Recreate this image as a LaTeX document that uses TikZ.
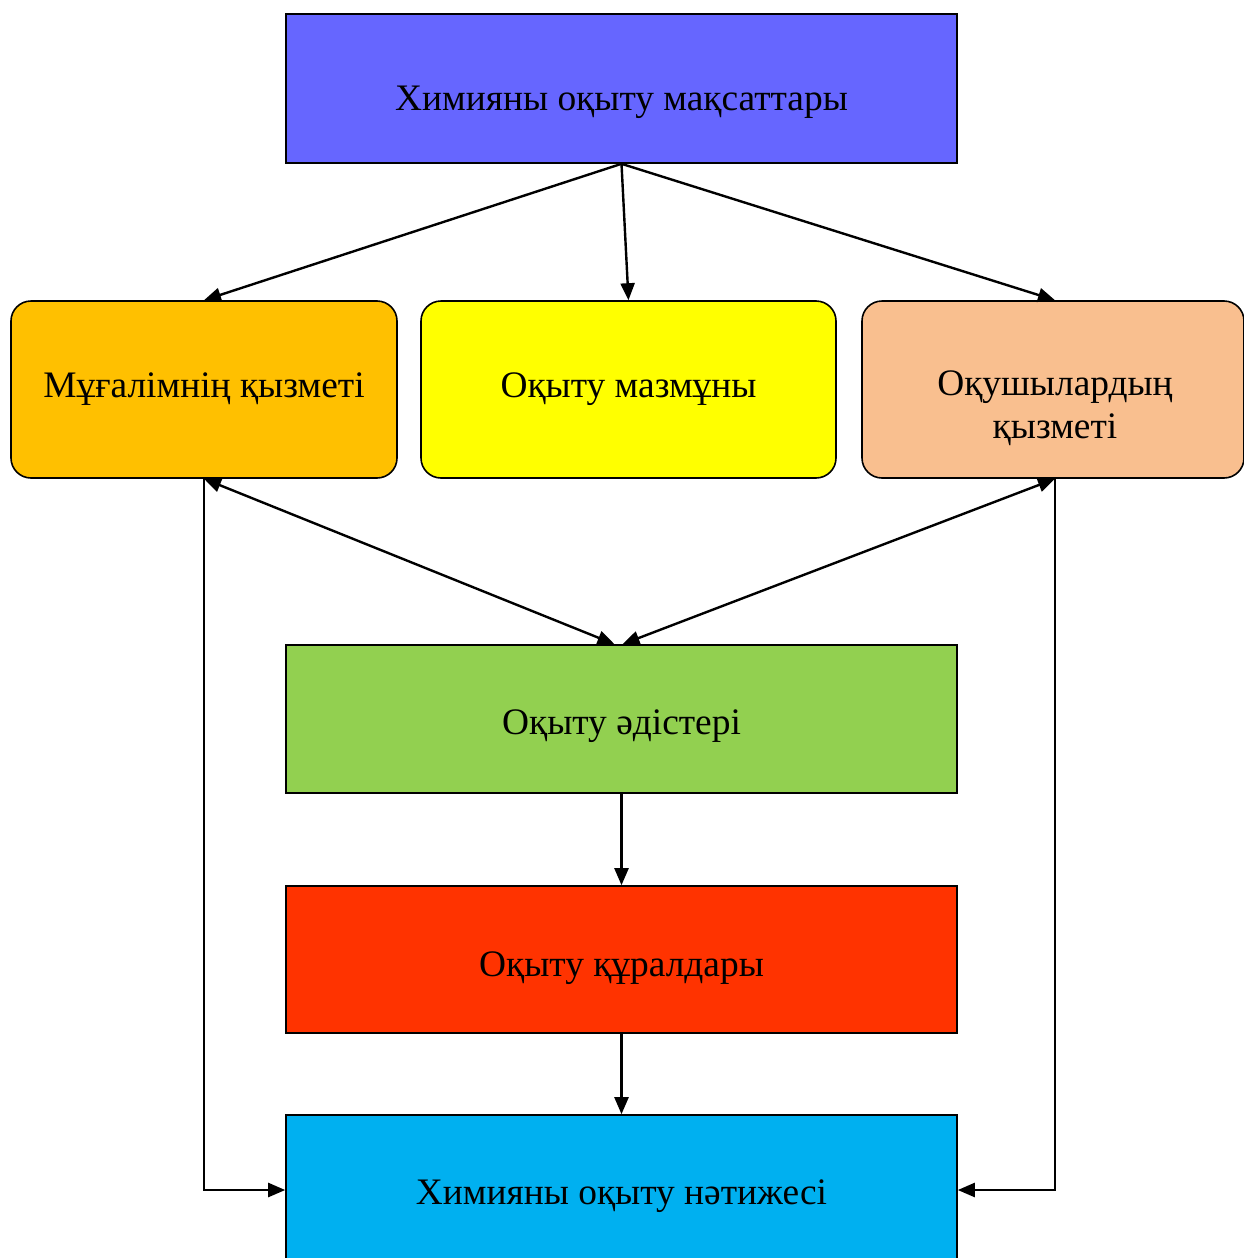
\documentclass[tikz,border=0pt]{standalone}
\usepackage{fontspec}
\setmainfont{Liberation Serif}
\usetikzlibrary{arrows.meta,calc}
\definecolor{cgoal}{HTML}{6666FF}
\definecolor{cteach}{HTML}{FFC000}
\definecolor{ccontent}{HTML}{FFFF00}
\definecolor{cpupil}{HTML}{F9BF8F}
\definecolor{cmethod}{HTML}{92D050}
\definecolor{cmeans}{HTML}{FF3300}
\definecolor{cresult}{HTML}{00B0F0}
\tikzset{
  lbl/.style={font=\fontsize{37.4}{43}\selectfont, inner sep=0pt},
  box/.style={lbl, draw=black, line width=1.6pt, rectangle, align=center},
  rbox/.style={box, rounded corners=20pt},
  link/.style={line width=2.4pt, -{Triangle[length=17pt,width=14pt]}},
  dlink/.style={line width=2.4pt, {Triangle[length=17pt,width=14pt]}-{Triangle[length=17pt,width=14pt]}}
}
\begin{document}
\begin{tikzpicture}[x=1pt,y=-1pt]
\useasboundingbox[fill=white] (0,0) rectangle (1243,1258);
% boxes; text height with zero depth places each baseline below the centre
\node[box, fill=cgoal, minimum width=671pt, minimum height=149pt, text height=43pt, text depth=0pt] (goal) at (621.5,88.5) {Химияны оқыту мақсаттары};
\node[rbox, fill=cteach, minimum width=386pt, minimum height=177pt] (teach) at (204,389.5) {Мұғалімнің қызметі};
\node[rbox, fill=ccontent, minimum width=415pt, minimum height=177pt] (content) at (628.5,389.5) {Оқыту мазмұны};
\node[rbox, fill=cpupil, minimum width=382pt, minimum height=177pt] (pupil) at (1053,389.5) {};
\node[lbl, anchor=base] (pupilA) at (1055,395) {Оқушылардың};
\node[lbl, anchor=base] (pupilB) at (1055,438) {қызметі};
\node[box, fill=cmethod, minimum width=671pt, minimum height=148pt, text height=31pt, text depth=0pt] (method) at (621.5,719) {Оқыту әдістері};
\node[box, fill=cmeans, minimum width=671pt, minimum height=147pt, text height=34pt, text depth=0pt] (means) at (621.5,959.5) {Оқыту құралдары};
\node[box, fill=cresult, minimum width=671pt, minimum height=150pt, text height=29pt, text depth=0pt] (result) at (621.5,1190) {Химияны оқыту нәтижесі};
\coordinate (mL) at ($(method.north)+(-7,0)$);
\coordinate (mR) at ($(method.north)+(1,0)$);
\coordinate (pN) at ($(pupil.north)+(2,0)$);
\coordinate (pS) at ($(pupil.south)+(2,0)$);
% connectors
\draw[link] (goal.south) -- (teach.north);
\draw[link] (goal.south) -- (content.north);
\draw[link] (goal.south) -- (pN);
\draw[dlink] (teach.south) -- (mL);
\draw[dlink] (pS) -- (mR);
\draw[link] (method.south) -- (means.north);
\draw[link] (means.south) -- (result.north);
\draw[link] (teach.south) -- (teach.south |- result.west) -- (result.west);
\draw[link] (pS) -- (pS |- result.east) -- (result.east);
\end{tikzpicture}
\end{document}
